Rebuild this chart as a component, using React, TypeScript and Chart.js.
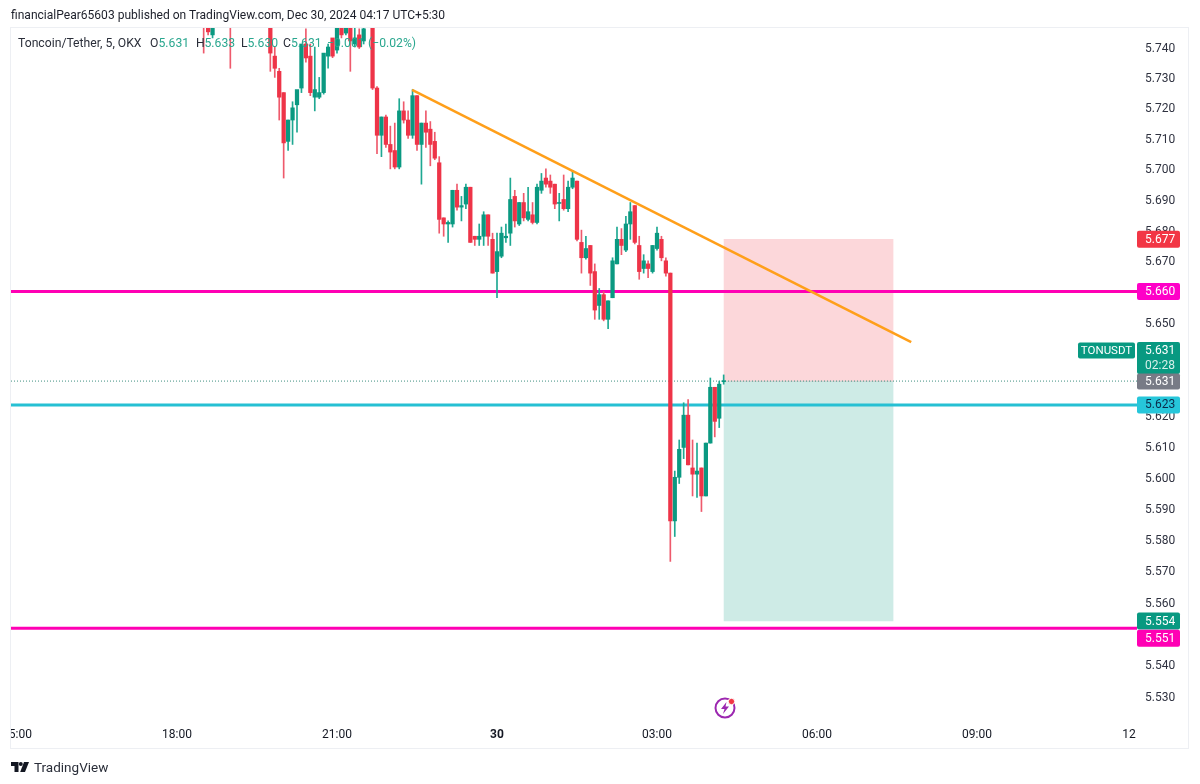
import React, { useEffect, useRef } from "react";
import { Chart, registerables } from "chart.js";

Chart.register(...registerables);

const FONT = 'Roboto, "Open Sans", sans-serif';
const RED = "#ee3448";
const GREEN = "#0a9981";
const RED_WICK = "#ee5a6c";
const GREEN_WICK = "#1ea892";

// candle number counted in 5 minute bars from 18:00
const candleIndex = [
  6, 7, 8, 12,
  21, 22, 23, 24, 25, 26, 27, 28, 29, 30,
  31, 32, 33, 34, 35, 36, 37, 38, 39, 40, 41, 42,
  44, 45, 46, 47, 48, 49, 50,
  51, 52, 53, 54, 55, 56, 57, 58, 59, 60,
  61, 62, 63, 64, 65, 66, 67, 68, 69, 70,
  71, 72, 73, 74, 75, 76, 77, 78, 79, 80,
  81, 82, 83, 84, 85, 86, 87, 88, 89, 90,
  91, 92, 93, 94, 95, 96, 97, 98, 99, 100,
  101, 102, 103, 104, 105, 106, 107, 108, 109, 110,
  111, 112, 113, 114, 115, 116, 117, 118, 119, 120,
  121, 122, 123,
];
const opens = [
  5.75, 5.748, 5.744, 5.75,
  5.748, 5.737, 5.732, 5.725, 5.709, 5.716, 5.721, 5.7265, 5.741, 5.737,
  5.7235, 5.7235, 5.725, 5.737, 5.743, 5.739, 5.748, 5.7446, 5.748, 5.741, 5.744, 5.742,
  5.75, 5.7265, 5.711, 5.717, 5.708, 5.706, 5.7006,
  5.719, 5.716, 5.711, 5.724, 5.708, 5.715, 5.713, 5.709, 5.702, 5.684,
  5.682, 5.682, 5.693, 5.6875, 5.6885, 5.694, 5.678, 5.677, 5.678, 5.685,
  5.677, 5.6665, 5.6715, 5.6775, 5.679, 5.691, 5.682, 5.689, 5.6835, 5.685,
  5.6825, 5.693, 5.697, 5.696, 5.695, 5.6887, 5.69, 5.687, 5.694, 5.696,
  5.676, 5.671, 5.675, 5.6665, 5.6555, 5.659, 5.651, 5.658, 5.669, 5.677,
  5.6735, 5.682, 5.688, 5.675, 5.6675, 5.669, 5.6665, 5.674, 5.677, 5.67,
  5.666, 5.586, 5.6, 5.6096, 5.62, 5.603, 5.601, 5.603, 5.594, 5.611,
  5.629, 5.619, 5.6308,
];
const highs = [
  5.752, 5.749, 5.749, 5.751,
  5.749, 5.74, 5.733, 5.725, 5.716, 5.722, 5.722, 5.731, 5.746, 5.741,
  5.74, 5.73, 5.728, 5.741, 5.742, 5.747, 5.75, 5.749, 5.75, 5.75, 5.746, 5.748,
  5.752, 5.727, 5.717, 5.7176, 5.714, 5.715, 5.723,
  5.722, 5.719, 5.726, 5.724, 5.715, 5.719, 5.7155, 5.712, 5.704, 5.684,
  5.683, 5.693, 5.695, 5.691, 5.695, 5.694, 5.678, 5.682, 5.686, 5.685,
  5.679, 5.679, 5.681, 5.682, 5.697, 5.693, 5.689, 5.692, 5.694, 5.689,
  5.695, 5.6985, 5.7, 5.698, 5.695, 5.692, 5.698, 5.696, 5.6995, 5.696,
  5.68, 5.678, 5.675, 5.669, 5.661, 5.66, 5.657, 5.671, 5.681, 5.6805,
  5.6845, 5.689, 5.688, 5.678, 5.672, 5.67, 5.675, 5.681, 5.678, 5.671,
  5.666, 5.602, 5.612, 5.624, 5.625, 5.612, 5.611, 5.603, 5.611, 5.632,
  5.629, 5.631, 5.633,
];
const lows = [
  5.738, 5.744, 5.743, 5.733,
  5.732, 5.73, 5.716, 5.697, 5.706, 5.708, 5.712, 5.725, 5.735, 5.724,
  5.719, 5.723, 5.7245, 5.733, 5.7365, 5.738, 5.743, 5.744, 5.732, 5.74, 5.7395, 5.741,
  5.726, 5.705, 5.704, 5.707, 5.7, 5.7, 5.7,
  5.715, 5.71, 5.71, 5.706, 5.695, 5.707, 5.701, 5.703, 5.679, 5.678,
  5.676, 5.681, 5.6865, 5.683, 5.687, 5.676, 5.675, 5.675, 5.675, 5.675,
  5.666, 5.658, 5.671, 5.676, 5.675, 5.681, 5.6815, 5.683, 5.683, 5.682,
  5.682, 5.692, 5.694, 5.692, 5.687, 5.683, 5.6865, 5.686, 5.6935, 5.6765,
  5.666, 5.6705, 5.662, 5.651, 5.651, 5.6505, 5.648, 5.658, 5.669, 5.672,
  5.673, 5.677, 5.6755, 5.664, 5.666, 5.6645, 5.666, 5.6735, 5.67, 5.665,
  5.573, 5.581, 5.598, 5.606, 5.604, 5.594, 5.5935, 5.589, 5.594, 5.611,
  5.613, 5.616, 5.63,
];
const closes = [
  5.748, 5.745, 5.748, 5.748,
  5.738, 5.733, 5.7235, 5.7085, 5.716, 5.72, 5.726, 5.741, 5.7364, 5.725,
  5.726, 5.725, 5.738, 5.74, 5.737, 5.748, 5.744, 5.748, 5.742, 5.743, 5.74, 5.746,
  5.7265, 5.711, 5.717, 5.708, 5.7055, 5.7006, 5.719,
  5.716, 5.711, 5.724, 5.708, 5.715, 5.712, 5.708, 5.7035, 5.6835, 5.682,
  5.6825, 5.693, 5.6875, 5.688, 5.694, 5.676, 5.677, 5.678, 5.685, 5.678,
  5.666, 5.673, 5.679, 5.678, 5.69, 5.683, 5.689, 5.684, 5.686, 5.6825,
  5.694, 5.696, 5.695, 5.694, 5.6885, 5.689, 5.687, 5.694, 5.697, 5.677,
  5.671, 5.674, 5.666, 5.654, 5.659, 5.651, 5.657, 5.67, 5.677, 5.675,
  5.682, 5.686, 5.676, 5.6665, 5.67, 5.6675, 5.675, 5.679, 5.671, 5.666,
  5.586, 5.6, 5.609, 5.62, 5.604, 5.601, 5.602, 5.594, 5.611, 5.629,
  5.618, 5.63, 5.631,
];

const priceTicks = [5.74, 5.73, 5.72, 5.71, 5.7, 5.69, 5.68, 5.67, 5.65, 5.62, 5.61, 5.6, 5.59, 5.58, 5.57, 5.56, 5.54, 5.53];
const timeTicks = [-36, 0, 36, 72, 108, 144, 180, 214.2];
const timeLabels = ["15:00", "18:00", "21:00", "30", "03:00", "06:00", "09:00", "12"];

const levelUpper = 5.66;
const levelEntry = 5.6233;
const levelLower = 5.5517;
const lastPrice = 5.631;
const stopPrice = 5.677;
const targetPrice = 5.554;
const positionCentre = 142.1;
const trendX = [52.9, 165.2];
const trendY = [5.7259, 5.6436];

const X_MIN = -37.35;
const X_MAX = 216;
const Y_MIN = 5.5224;
const Y_MAX = 5.7466;

const isUp = (i: number) => closes[i] >= opens[i];
const rows = candleIndex.map((x, i) => ({ x, i }));
const body = (up: boolean) => rows.filter((r) => isUp(r.i) === up).map((r) => ({ x: r.x, y: [opens[r.i], closes[r.i]] }));
const wick = (up: boolean) => rows.filter((r) => isUp(r.i) === up).map((r) => ({ x: r.x, y: [lows[r.i], highs[r.i]] }));
const hLine = (v: number) => [{ x: X_MIN, y: v }, { x: X_MAX, y: v }];

const priceLabels = [
  { value: stopPrice, text: "5.677", bg: "#f23645", fg: "#ffffff", dy: 0 },
  { value: levelUpper, text: "5.660", bg: "#ff00c8", fg: "#ffffff", dy: 0 },
  { value: levelEntry, text: "5.623", bg: "#26c6da", fg: "#0b2a4a", dy: 0 },
  { value: targetPrice, text: "5.554", bg: "#089981", fg: "#ffffff", dy: 0 },
  { value: levelLower, text: "5.551", bg: "#ff00b4", fg: "#ffffff", dy: 10 },
];

const overlayPlugin = {
  id: "overlay",
  afterDraw(chart: any) {
    const { ctx, scales } = chart;
    const y = scales.y;
    ctx.save();
    // the left edge of the pane clips the first time label
    ctx.fillStyle = "#ffffff";
    ctx.fillRect(0, chart.chartArea.bottom + 1, chart.chartArea.left, 27);

    const L = chart.chartArea.right;
    const box = (top: number, h: number, bg: string) => {
      ctx.fillStyle = bg;
      ctx.beginPath();
      ctx.roundRect(L, top, 43, h, 2);
      ctx.fill();
    };
    const text = (s: string, cy: number, fg: string, x = L + 8) => {
      ctx.fillStyle = fg;
      ctx.font = `12px ${FONT}`;
      ctx.textAlign = "left";
      ctx.textBaseline = "middle";
      ctx.fillText(s, x, cy);
    };
    for (const l of priceLabels) {
      const c = y.getPixelForValue(l.value) + l.dy;
      box(c - 8.5, 17, l.bg);
      text(l.text, c + 0.5, l.fg);
    }
    const c = y.getPixelForValue(lastPrice);
    box(c - 39, 32, "#089981");
    text("5.631", c - 30.5, "#ffffff");
    text("02:28", c - 15.5, "#d5f0ea");
    box(c - 7.5, 16, "#787b86");
    text(lastPrice.toFixed(3), c + 0.5, "#ffffff");
    ctx.fillStyle = "#089981";
    ctx.beginPath();
    ctx.roundRect(L - 59, c - 38.5, 57, 16, 2);
    ctx.fill();
    ctx.fillStyle = "#ffffff";
    ctx.font = `11.5px ${FONT}`;
    ctx.textAlign = "center";
    ctx.textBaseline = "middle";
    ctx.fillText("TONUSDT", L - 30.5, c - 30);
    ctx.restore();
  },
};

const legendItems: [number, string, string][] = [
  [18, "Toncoin/Tether, 5, OKX", "#2a2e39"],
  [150, "O", "#2a2e39"],
  [158.5, "5.631", "#2aa78f"],
  [196, "H", "#2a2e39"],
  [204.5, "5.633", "#2aa78f"],
  [241, "L", "#2a2e39"],
  [247.5, "5.630", "#2aa78f"],
  [283, "C", "#2a2e39"],
  [291, "5.631", "#2aa78f"],
  [327, "−0.001", "#2aa78f"],
  [368, "(−0.02%)", "#2aa78f"],
];

export default function App() {
  const ref = useRef<HTMLCanvasElement>(null);
  useEffect(() => {
    const chart = new Chart(ref.current as HTMLCanvasElement, {
      type: "bar",
      data: {
        datasets: [
          { type: "bar", data: [{ x: positionCentre, y: [lastPrice, stopPrice] }], backgroundColor: "rgba(242,54,69,0.2)", barThickness: 169, order: 10 },
          { type: "bar", data: [{ x: positionCentre, y: [targetPrice, lastPrice] }], backgroundColor: "rgba(8,153,129,0.2)", barThickness: 169, order: 10 },
          { type: "line", data: hLine(lastPrice), borderColor: "#3f8f80", borderWidth: 1, borderDash: [1, 2], pointRadius: 0, order: 6 },
          { type: "line", data: hLine(levelUpper), borderColor: "#ff00b4", borderWidth: 3, pointRadius: 0, order: 5 },
          { type: "line", data: hLine(levelEntry), borderColor: "#26c0d3", borderWidth: 3, pointRadius: 0, order: 5 },
          { type: "line", data: hLine(levelLower), borderColor: "#ff00b4", borderWidth: 3, pointRadius: 0, order: 5 },
          { type: "bar", data: wick(false), backgroundColor: RED_WICK, barThickness: 1, order: 4 },
          { type: "bar", data: wick(true), backgroundColor: GREEN_WICK, barThickness: 1, order: 4 },
          { type: "bar", data: body(false), backgroundColor: RED, barThickness: 3.6, minBarLength: 1, order: 3 },
          { type: "bar", data: body(true), backgroundColor: GREEN, barThickness: 3.6, minBarLength: 1, order: 3 },
          { type: "line", data: trendX.map((x, i) => ({ x, y: trendY[i] })), borderColor: "#ff9f1a", borderWidth: 2.5, pointRadius: 0, order: 1 },
        ] as any,
      },
      options: {
        animation: false,
        responsive: false,
        grouped: false,
        layout: { padding: { left: 11, top: 27, right: 0, bottom: 28 } },
        plugins: { legend: { display: false }, tooltip: { enabled: false }, title: { display: false } },
        scales: {
          x: {
            type: "linear",
            offset: false,
            min: X_MIN,
            max: X_MAX,
            grid: { display: false, offset: false, drawTicks: false },
            border: { display: false },
            afterBuildTicks: (s: any) => { s.ticks = timeTicks.map((value) => ({ value })); },
            afterFit: (s: any) => { s.height = 28; s.paddingLeft = 0; s.paddingRight = 0; },
            ticks: {
              autoSkip: false,
              maxRotation: 0,
              padding: 0,
              color: "#131722",
              font: (c: any) => ({ family: FONT, size: 12, weight: timeLabels[c.index] === "30" ? "bold" : "normal" }),
              callback: (_v: any, i: number) => timeLabels[i],
            },
          },
          y: {
            type: "logarithmic",
            position: "right",
            min: Y_MIN,
            max: Y_MAX,
            grid: { display: false, drawTicks: false },
            border: { display: false },
            afterBuildTicks: (s: any) => { s.ticks = priceTicks.map((value) => ({ value })); },
            afterFit: (s: any) => { s.width = 63; s.paddingTop = 0; s.paddingBottom = 0; },
            ticks: {
              autoSkip: false,
              padding: 8,
              labelOffset: 1.5,
              color: "#2f3240",
              font: { family: FONT, size: 12 },
              callback: (v: any) => Number(v).toFixed(3),
            },
          },
        },
      } as any,
      plugins: [overlayPlugin],
    });
    return () => chart.destroy();
  }, []);

  return (
    <div style={{ position: "absolute", left: 0, top: 0, width: 1200, height: 784, overflow: "hidden", background: "#fff", fontFamily: FONT }}>
      <canvas ref={ref} width={1200} height={784} style={{ position: "absolute", left: 0, top: 0, display: "block" }} />
      <div style={{ position: "absolute", left: 10, top: 27, width: 1177, height: 720, border: "1px solid #edeff3", pointerEvents: "none" }} />
      <div style={{ position: "absolute", left: 11, top: 6, fontSize: 12.05, lineHeight: "18px", color: "#1c1f2a", whiteSpace: "nowrap" }}>
        financialPear65603 published on TradingView.com, Dec 30, 2024 04:17 UTC+5:30
      </div>
      {legendItems.map(([x, s, c]) => (
        <span key={x} style={{ position: "absolute", left: x, top: 35, fontSize: 12.2, lineHeight: "16px", color: c, whiteSpace: "nowrap" }}>{s}</span>
      ))}
      <svg style={{ position: "absolute", left: 713, top: 696 }} width="24" height="24" viewBox="0 0 24 24">
        <circle cx="12" cy="12" r="9.5" fill="none" stroke="#9c27b0" strokeWidth="2" />
        <path d="M13.5 6 L8 13 H11.5 L10 18 L16 10.5 H12.5 Z" fill="#9c27b0" />
        <circle cx="18.5" cy="5.5" r="3.2" fill="#f23645" stroke="#fff" strokeWidth="1" />
      </svg>
      <svg style={{ position: "absolute", left: 11, top: 762 }} width="18" height="10" viewBox="0 0 18 10">
        <path d="M0 0 H7.5 V10 H3.5 V4 H0 Z" fill="#131722" />
        <circle cx="9.8" cy="2" r="2" fill="#131722" />
        <path d="M13 0 H18 L14 10 H9.2 Z" fill="#131722" />
      </svg>
      <div style={{ position: "absolute", left: 34, top: 758, fontSize: 13.5, lineHeight: "18px", color: "#2a2e39", whiteSpace: "nowrap" }}>TradingView</div>
    </div>
  );
}
